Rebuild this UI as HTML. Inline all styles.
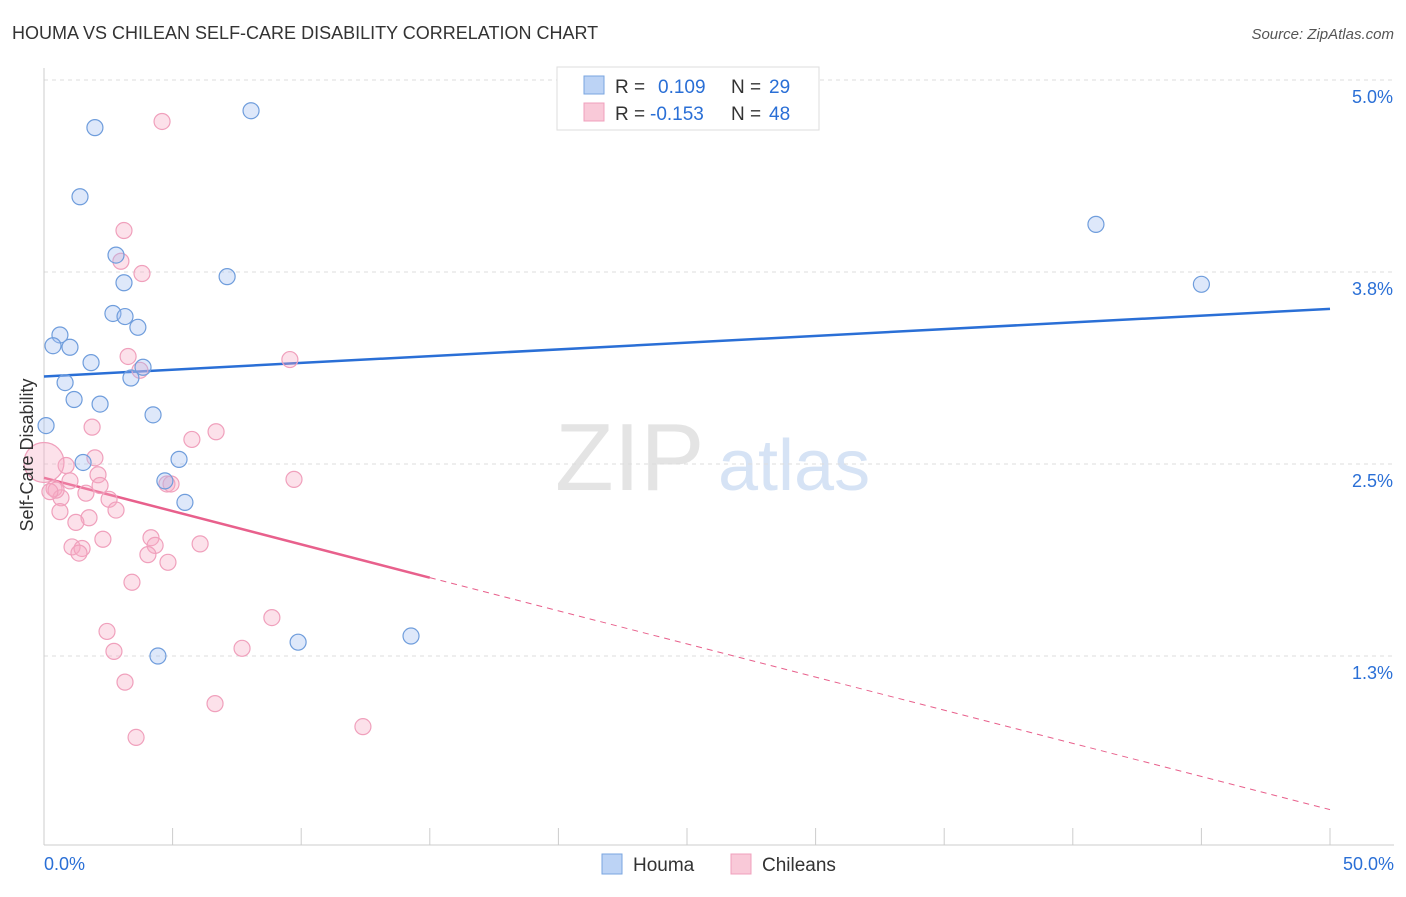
<!DOCTYPE html>
<html><head><meta charset="utf-8"><style>
body{margin:0;background:#fff;font-family:"Liberation Sans",sans-serif}
svg text{font-family:"Liberation Sans",sans-serif}
</style></head><body>
<svg id="chart" width="1406" height="892" xmlns="http://www.w3.org/2000/svg">
<text x="12" y="39" font-size="18" fill="#333">HOUMA VS CHILEAN SELF-CARE DISABILITY CORRELATION CHART</text>
<text x="1394" y="39" font-size="15" fill="#555" font-style="italic" text-anchor="end">Source: ZipAtlas.com</text>
<text x="555" y="490" font-size="96" fill="#e4e4e4" font-family="Liberation Serif">ZIP</text>
<text x="718" y="490" font-size="72" fill="#d6e3f5">atlas</text>
<g id="grid"></g><g id="axes"></g><g id="trend"></g><g id="pts"></g>
<g>
<rect x="557" y="67" width="262" height="63" fill="#fff" stroke="#ddd"/>
<rect x="584" y="76" width="20" height="18" fill="#bcd3f5" stroke="#7aa6e0"/>
<rect x="584" y="103" width="20" height="18" fill="#f9c9d8" stroke="#f0a0bc"/>
<text x="615" y="93" font-size="19" fill="#333">R =</text>
<text x="658" y="93" font-size="19" fill="#2a6fd6">0.109</text>
<text x="731" y="93" font-size="19" fill="#333">N =</text>
<text x="769" y="93" font-size="19" fill="#2a6fd6">29</text>
<text x="615" y="120" font-size="19" fill="#333">R =</text>
<text x="650" y="120" font-size="19" fill="#2a6fd6">-0.153</text>
<text x="731" y="120" font-size="19" fill="#333">N =</text>
<text x="769" y="120" font-size="19" fill="#2a6fd6">48</text>
</g>
<g>
<rect x="602" y="854" width="20" height="20" fill="#bcd3f5" stroke="#7aa6e0"/>
<text x="633" y="871" font-size="19" fill="#333">Houma</text>
<rect x="731" y="854" width="20" height="20" fill="#f9c9d8" stroke="#f0a0bc"/>
<text x="762" y="871" font-size="19" fill="#333">Chileans</text>
</g>
<text x="33" y="455" font-size="18" fill="#333" transform="rotate(-90 33 455)" text-anchor="middle">Self-Care Disability</text>
</svg>
<script>
const yTicks=[5.0,3.75,2.5,1.25];
const yTickLabels=["5.0%","3.8%","2.5%","1.3%"];
const xTickLabels=["0.0%","50.0%"];
const houmaX=[1.98,8.05,1.40,2.80,7.12,3.11,2.68,3.15,3.65,0.62,0.35,1.01,1.83,3.85,3.38,0.82,1.17,2.18,4.24,0.08,1.52,5.25,4.70,5.48,40.9,45.0,9.88,14.27,4.43];
const houmaY=[4.69,4.80,4.24,3.86,3.72,3.68,3.48,3.46,3.39,3.34,3.27,3.26,3.16,3.13,3.06,3.03,2.92,2.89,2.82,2.75,2.51,2.53,2.39,2.25,4.06,3.67,1.34,1.38,1.25];
const chileX=[4.59,3.11,2.99,3.81,3.27,9.56,3.73,1.87,6.69,5.75,1.98,0.86,2.10,9.72,1.01,4.78,0.39,2.18,1.63,0.66,2.53,2.80,0.62,1.75,1.24,4.16,2.29,4.32,1.09,1.48,6.07,4.04,1.36,4.82,3.42,8.86,2.45,2.72,7.70,3.15,6.65,3.58,12.40,0.47,0.23,4.94,0];
const chileY=[4.73,4.02,3.82,3.74,3.20,3.18,3.11,2.74,2.71,2.66,2.54,2.49,2.43,2.40,2.39,2.37,2.34,2.36,2.31,2.28,2.27,2.20,2.19,2.15,2.12,2.02,2.01,1.97,1.96,1.95,1.98,1.91,1.92,1.86,1.73,1.50,1.41,1.28,1.30,1.08,0.94,0.72,0.79,2.33,2.32,2.37,2.51];
const houmaTrend=[3.07,3.51];
const chileTrend=[2.41,1.76,0.25];
const NS="http://www.w3.org/2000/svg";
const sx=v=>44+v*25.72, sy=v=>80+(5-v)*153.6;
function mk(t,a,p){const e=document.createElementNS(NS,t);for(const k in a)e.setAttribute(k,a[k]);p.appendChild(e);return e;}
const grid=document.getElementById('grid'),axes=document.getElementById('axes'),trend=document.getElementById('trend'),pts=document.getElementById('pts');
yTicks.forEach((v,i)=>{
 const l=mk('line',{x1:44,x2:1394,y1:sy(v),y2:sy(v),stroke:'#ddd','stroke-dasharray':'4,4'},grid);
 
 
 const t=mk('text',{x:1393,y:sy(v)+23,'font-size':18,fill:'#2a6fd6','text-anchor':'end'},axes);t.textContent=yTickLabels[i];
 
 
});
let a=mk('line',{x1:44,x2:44,y1:68,y2:845,stroke:'#ccc'},axes);


a=mk('line',{x1:44,x2:1394,y1:845,y2:845,stroke:'#ccc'},axes);


for(let i=0;i<=10;i++){const tk=mk('line',{x1:sx(i*5),x2:sx(i*5),y1:828,y2:845,stroke:'#ccc'},axes);
 
 }
[[0,'start',44],[50,'end',1394]].forEach((d,i)=>{const t=mk('text',{x:d[2],y:870,'font-size':18,fill:'#2a6fd6','text-anchor':d[1]},axes);t.textContent=xTickLabels[i];
 
 });
let tl=mk('line',{x1:sx(0),y1:sy(houmaTrend[0]),x2:sx(50),y2:sy(houmaTrend[1]),stroke:'#2a6fd6','stroke-width':2.5},trend);


tl=mk('line',{x1:sx(0),y1:sy(chileTrend[0]),x2:sx(15),y2:sy(chileTrend[1]),stroke:'#e8608c','stroke-width':2.5},trend);


tl=mk('line',{x1:sx(15),y1:sy(chileTrend[1]),x2:sx(50),y2:sy(chileTrend[2]),stroke:'#e8608c','stroke-width':1,'stroke-dasharray':'6,5'},trend);


chileX.forEach((x,i)=>{const c=mk('circle',{cx:sx(x),cy:sy(chileY[i]),r:(x===0?20:8),fill:'rgba(245,170,195,0.35)',stroke:'#f0a0bc','stroke-width':1.2},pts);
 
 });
houmaX.forEach((x,i)=>{const c=mk('circle',{cx:sx(x),cy:sy(houmaY[i]),r:8,fill:'rgba(160,190,240,0.35)',stroke:'#6f9ddc','stroke-width':1.2},pts);
 
 });
</script>
</body></html>
